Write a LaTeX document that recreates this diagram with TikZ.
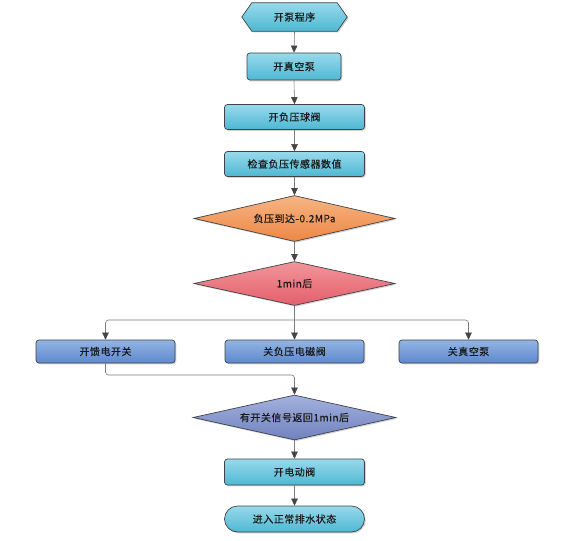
\documentclass[tikz,border=0pt]{standalone}
\usepackage{fontspec}
\newfontfamily\cjk[LetterSpace=5,FakeBold=0.3]{Noto Sans CJK SC}
\usetikzlibrary{shapes.geometric,arrows.meta,shadows,calc}
\definecolor{edgec}{HTML}{3E4448}
\definecolor{linec}{HTML}{7A7A7A}
\definecolor{tipc}{HTML}{454545}
\definecolor{txt}{HTML}{1A1A1A}
\begin{document}
\begin{tikzpicture}[x=1pt,y=-1pt,
  base/.style={draw=edgec, line width=0.7pt, font=\cjk\fontsize{10}{12}\selectfont, text=txt, inner sep=0pt,
    drop shadow={shadow xshift=1.3pt,shadow yshift=-1.3pt,opacity=0.35}},
  cyanbox/.style={base, rectangle, rounded corners=3pt, top color=cyanT, bottom color=cyanB},
  bluebox/.style={base, rectangle, rounded corners=3pt, top color=blueT, bottom color=blueB},
  decide/.style={base, diamond, aspect=4},
  conn/.style={draw=linec, line width=0.6pt, -{Triangle[length=7pt,width=6.5pt,fill=tipc,color=tipc]}},
  plain/.style={draw=linec, line width=0.6pt},
]
\definecolor{cyanT}{HTML}{98D9EB}
\definecolor{cyanB}{HTML}{4EB8D3}
\definecolor{blueT}{HTML}{93B4E3}
\definecolor{blueB}{HTML}{5E89CE}
\definecolor{orT}{HTML}{F6B583}
\definecolor{orB}{HTML}{EE8645}
\definecolor{rdT}{HTML}{F2959B}
\definecolor{rdB}{HTML}{E45F6B}
\definecolor{slT}{HTML}{A3B1DD}
\definecolor{slB}{HTML}{7082BF}
\useasboundingbox (0,0) rectangle (572,540);
\fill[white] (0,0) rectangle (572,540);

% start hexagon
\node[minimum width=105pt, minimum height=28pt, inner sep=0pt] (s) at (294.5,17) {};
\path[draw=edgec, line width=0.7pt, top color=cyanT, bottom color=cyanB,
  drop shadow={shadow xshift=1.3pt,shadow yshift=-1.3pt,opacity=0.35}]
  (s.west) -- ($(s.north west)+(10,0)$) -- ($(s.north east)+(-10,0)$) -- (s.east)
  -- ($(s.south east)+(-10,0)$) -- ($(s.south west)+(10,0)$) -- cycle;
\node[font=\cjk\fontsize{10}{12}\selectfont, text=txt] at (s) {开泵程序};

\node[cyanbox, minimum width=94pt, minimum height=27pt] (b1) at (294,66.5) {开真空泵};
\node[cyanbox, minimum width=140pt, minimum height=25pt] (b2) at (294.5,117) {开负压球阀};
\node[cyanbox, minimum width=140pt, minimum height=25pt] (b3) at (294.5,164) {检查负压传感器数值};
\node[decide, minimum width=201pt, minimum height=46pt, top color=orT, bottom color=orB] (d1) at (294.5,218.5) {负压到达-0.2MPa};
\node[decide, minimum width=201pt, minimum height=44pt, top color=rdT, bottom color=rdB] (d2) at (294.5,283.5) {1min后};

\node[bluebox, minimum width=139pt, minimum height=23pt] (L) at (105.5,351.5) {开馈电开关};
\node[bluebox, minimum width=139pt, minimum height=23pt] (M) at (294.5,351.5) {关负压电磁阀};
\node[bluebox, minimum width=139pt, minimum height=23pt] (R) at (468.5,351.5) {关真空泵};

\node[decide, minimum width=203pt, minimum height=45pt, top color=slT, bottom color=slB] (d3) at (294.5,417.5) {有开关信号返回1min后};
\node[cyanbox, minimum width=140pt, minimum height=26pt] (b4) at (294.5,472) {开电动阀};
\node[cyanbox, minimum width=140pt, minimum height=26pt, rounded corners=13pt] (e) at (294.5,519) {进入正常排水状态};

\coordinate (j) at (294.5,320);
\coordinate (k) at (294.5,375);

\draw[conn] (s.south) -- (b1.north);
\draw[conn] (b1.south) -- (b2.north);
\draw[conn] (b2.south) -- (b3.north);
\draw[conn] (b3.south) -- (d1.north);
\draw[conn] (d1.south) -- (d2.north);
\draw[conn] (d2.south) -- (M.north);
\draw[conn, rounded corners=3pt] (j) -| (L.north);
\draw[conn, rounded corners=3pt] (j) -| (R.north);
\draw[conn, rounded corners=3pt] (L.south) |- (k) -- (d3.north);
\draw[conn] (d3.south) -- (b4.north);
\draw[conn] (b4.south) -- (e.north);
\end{tikzpicture}
\end{document}
